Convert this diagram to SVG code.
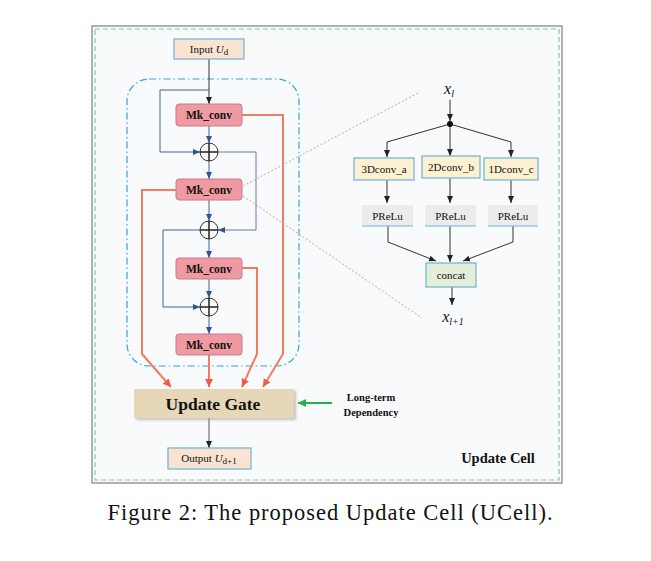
<svg xmlns="http://www.w3.org/2000/svg" width="651" height="561" viewBox="0 0 651 561">
<style>
.t{font-family:"Liberation Serif",serif;fill:#111;text-anchor:middle}
.b{font-weight:bold}
.mk{fill:#ef9aa0;stroke:#c47a94;stroke-width:1}
.blk{stroke:#333;stroke-width:1;fill:none}
.blu{stroke:#3f62a0;stroke-width:1;fill:none}
.red{stroke:#f47a60;stroke-width:2;fill:none}
.dot{stroke:#c8a88a;stroke-width:1;stroke-dasharray:2 2;fill:none}
.ybox{fill:#fdf1d2;stroke:#6ab4d8;stroke-width:1.2}
.pbox{fill:#ececec}
</style>
<defs>
<marker id="ak" markerWidth="8" markerHeight="8" refX="7" refY="4" orient="auto" markerUnits="userSpaceOnUse"><path d="M0,1 L7,4 L0,7 Z" fill="#222"/></marker>
<marker id="ab" markerWidth="8" markerHeight="8" refX="7" refY="4" orient="auto" markerUnits="userSpaceOnUse"><path d="M0,1 L7,4 L0,7 Z" fill="#2f5596"/></marker>
<marker id="ar" markerWidth="10" markerHeight="10" refX="8" refY="5" orient="auto" markerUnits="userSpaceOnUse"><path d="M0,1 L8,5 L0,9 Z" fill="#f05a48"/></marker>
<marker id="ag" markerWidth="10" markerHeight="10" refX="8" refY="5" orient="auto" markerUnits="userSpaceOnUse"><path d="M0,1 L8,5 L0,9 Z" fill="#22b14c"/></marker>
<filter id="sh" x="-10%" y="-20%" width="130%" height="150%"><feDropShadow dx="2" dy="2" stdDeviation="1.5" flood-color="#999" flood-opacity="0.6"/></filter>
</defs>
<rect width="651" height="561" fill="#fff"/>
<g id="frame">
<rect x="92" y="26" width="470" height="457" fill="#f9fafc" stroke="#999" stroke-width="1.5"/>
<rect x="95" y="29" width="464" height="451" fill="none" stroke="#7fc8a0" stroke-width="1.2" stroke-dasharray="5 3"/>
<rect x="127" y="79" width="172" height="287" rx="22" fill="none" stroke="#2aa8e0" stroke-width="1.2" stroke-dasharray="7 3 1.5 3"/>
</g>
<g id="connectors">
<line class="dot" x1="243" y1="186" x2="420" y2="92"/>
<line class="dot" x1="243" y1="196" x2="422" y2="318"/>
<line class="blk" x1="209" y1="59" x2="209" y2="104" marker-end="url(#ak)"/>
<polyline class="blu" points="209,90 160,90 160,152 200,152" marker-end="url(#ab)"/>
<line class="blu" x1="209" y1="126" x2="209" y2="143" marker-end="url(#ab)"/>
<line class="blu" x1="209" y1="161" x2="209" y2="179" marker-end="url(#ab)"/>
<polyline class="blu" points="218,152 256,152 256,230 218,230" marker-end="url(#ab)" style="stroke:#6a78a8"/>
<line class="blu" x1="209" y1="200" x2="209" y2="221" marker-end="url(#ab)"/>
<line class="blu" x1="209" y1="239" x2="209" y2="258" marker-end="url(#ab)"/>
<polyline class="blu" points="200,230 163,230 163,307 200,307" marker-end="url(#ab)"/>
<line class="blu" x1="209" y1="279" x2="209" y2="298" marker-end="url(#ab)"/>
<line class="blu" x1="209" y1="316" x2="209" y2="334" marker-end="url(#ab)"/>
<polyline class="red" points="242,115 283,115 283,354 263,387" marker-end="url(#ar)"/>
<polyline class="red" points="176,190 142,190 142,354 171,387" marker-end="url(#ar)"/>
<polyline class="red" points="242,268 257,268 257,354 242,387" marker-end="url(#ar)"/>
<line class="red" x1="209" y1="355" x2="209" y2="387" marker-end="url(#ar)"/>
<line class="blk" x1="209" y1="418" x2="209" y2="448" marker-end="url(#ak)" style="stroke:#555"/>
<line x1="332" y1="403" x2="298" y2="403" stroke="#22b14c" stroke-width="2" marker-end="url(#ag)"/>
<line class="blk" x1="450" y1="100" x2="450" y2="121" marker-end="url(#ak)"/>
<polyline class="blk" points="450,124 387,142 387,157" marker-end="url(#ak)"/>
<line class="blk" x1="450" y1="124" x2="450" y2="156" marker-end="url(#ak)"/>
<polyline class="blk" points="450,124 511,142 511,157" marker-end="url(#ak)"/>
<line class="blk" x1="387" y1="180" x2="387" y2="203" marker-end="url(#ak)"/>
<line class="blk" x1="450" y1="178" x2="450" y2="203" marker-end="url(#ak)"/>
<line class="blk" x1="511" y1="180" x2="511" y2="203" marker-end="url(#ak)"/>
<polyline class="blk" points="388,226 388,242 436,261" marker-end="url(#ak)"/>
<line class="blk" x1="450" y1="226" x2="450" y2="262" marker-end="url(#ak)"/>
<polyline class="blk" points="513,226 513,242 463,261" marker-end="url(#ak)"/>
<line class="blk" x1="452" y1="287" x2="452" y2="305" marker-end="url(#ak)"/>
<circle cx="450" cy="124" r="3" fill="#111"/>
</g>
<g id="input">
<rect x="174" y="39" width="70" height="20" fill="#fbe3d2" stroke="#6ab4d8" stroke-width="1.2"/>
<text class="t" x="209" y="53" font-size="11">Input <tspan font-style="italic">U</tspan><tspan font-size="9" dy="2">d</tspan></text>
</g>
<g id="mk1"><rect class="mk" x="176" y="104" width="66" height="22" rx="3"/><text class="t b" x="209" y="119" font-size="11.5">Mk_conv</text></g>
<g id="plus1"><circle cx="209" cy="152" r="9" fill="#fafafa" stroke="#333"/><path d="M200,152H218M209,143V161" stroke="#222" stroke-width="1.5"/></g>
<g id="mk2"><rect class="mk" x="176" y="179" width="66" height="21" rx="3"/><text class="t b" x="209" y="193.5" font-size="11.5">Mk_conv</text></g>
<g id="plus2"><circle cx="209" cy="230" r="9" fill="#fafafa" stroke="#333"/><path d="M200,230H218M209,221V239" stroke="#222" stroke-width="1.5"/></g>
<g id="mk3"><rect class="mk" x="176" y="258" width="66" height="21" rx="3"/><text class="t b" x="209" y="272.5" font-size="11.5">Mk_conv</text></g>
<g id="plus3"><circle cx="209" cy="307" r="9" fill="#fafafa" stroke="#333"/><path d="M200,307H218M209,298V316" stroke="#222" stroke-width="1.5"/></g>
<g id="mk4"><rect class="mk" x="176" y="334" width="66" height="21" rx="3"/><text class="t b" x="209" y="348.5" font-size="11.5">Mk_conv</text></g>
<g id="gate">
<rect x="134" y="389" width="160" height="29" fill="#e6d7b8" filter="url(#sh)"/>
<text class="t b" x="213" y="409.5" font-size="17.5">Update Gate</text>
</g>
<g id="output">
<rect x="168" y="448" width="83" height="21" fill="#fbe3d2" stroke="#6ab4d8" stroke-width="1.2"/>
<text class="t" x="209" y="462" font-size="11">Output <tspan font-style="italic">U</tspan><tspan font-size="9" dy="2">d+1</tspan></text>
</g>
<g id="longterm">
<text class="t b" x="371" y="401" font-size="10.5">Long-term</text>
<text class="t b" x="371" y="416" font-size="10.5">Dependency</text>
</g>
<text class="t b" x="498" y="463" font-size="14.5">Update Cell</text>
<g id="xl"><text class="t" x="449" y="94" font-size="16" font-style="italic">x<tspan font-size="10" dy="3">l</tspan></text></g>
<g id="conv3d"><rect class="ybox" x="354" y="158" width="60" height="22"/><text class="t" x="384" y="173" font-size="11">3Dconv_a</text></g>
<g id="conv2d"><rect class="ybox" x="422" y="156" width="58" height="22"/><text class="t" x="451" y="171" font-size="11">2Dconv_b</text></g>
<g id="conv1d"><rect class="ybox" x="484" y="158" width="54" height="22"/><text class="t" x="511" y="173" font-size="11">1Dconv_c</text></g>
<g id="prelu1"><rect class="pbox" x="362" y="205" width="51" height="21"/><line x1="362" y1="226" x2="413" y2="226" stroke="#6ab4d8" stroke-width="1.2"/><text class="t" x="387.5" y="219.5" font-size="11">PReLu</text></g>
<g id="prelu2"><rect class="pbox" x="425" y="205" width="51" height="21"/><line x1="425" y1="226" x2="476" y2="226" stroke="#6ab4d8" stroke-width="1.2"/><text class="t" x="450.5" y="219.5" font-size="11">PReLu</text></g>
<g id="prelu3"><rect class="pbox" x="488" y="205" width="50" height="21"/><line x1="488" y1="226" x2="538" y2="226" stroke="#6ab4d8" stroke-width="1.2"/><text class="t" x="513" y="219.5" font-size="11">PReLu</text></g>
<g id="concat"><rect x="426" y="263" width="50" height="24" fill="#e3efd9" stroke="#6ab4d8" stroke-width="1.2"/><text class="t" x="451" y="279" font-size="11">concat</text></g>
<g id="xl1"><text class="t" x="453" y="322" font-size="16" font-style="italic">x<tspan font-size="10" dy="3">l+1</tspan></text></g>
<text class="t" x="330" y="520" font-size="22.5" textLength="445" lengthAdjust="spacing">Figure 2: The proposed Update Cell (UCell).</text>
</svg>
